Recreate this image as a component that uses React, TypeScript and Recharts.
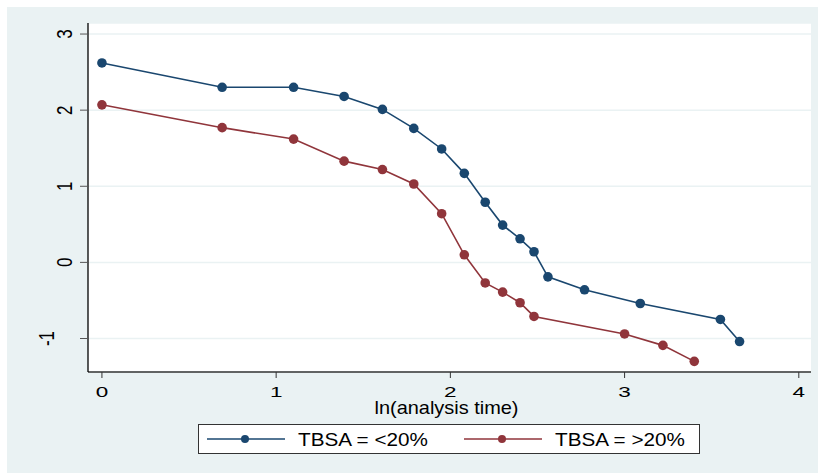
import { LineChart, Line, XAxis, YAxis, CartesianGrid, Legend } from 'recharts';

// ln(analysis time) and the y values for each TBSA group
const smallX = [0, 0.69, 1.1, 1.39, 1.61, 1.79, 1.95, 2.08, 2.2, 2.3, 2.4, 2.48, 2.56, 2.77, 3.09, 3.55, 3.66];
const smallY = [2.62, 2.3, 2.3, 2.18, 2.01, 1.76, 1.49, 1.17, 0.79, 0.49, 0.31, 0.14, -0.19, -0.36, -0.54, -0.75, -1.04];

const largeX = [0, 0.69, 1.1, 1.39, 1.61, 1.79, 1.95, 2.08, 2.2, 2.3, 2.4, 2.48, 3.0, 3.22, 3.4];
const largeY = [2.07, 1.77, 1.62, 1.33, 1.22, 1.03, 0.64, 0.1, -0.27, -0.39, -0.53, -0.71, -0.94, -1.09, -1.3];

const xTicks = [0, 1, 2, 3, 4];
const yTicks = [-1, 0, 1, 2, 3];

const seriesNames = ['TBSA = <20%', 'TBSA = >20%'];

const NAVY = '#1a476f';
const MAROON = '#90353b';
const BG = '#eaf2f3';
const FONT = '"Liberation Sans", Arial, sans-serif';

const smallData = smallX.map((x, i) => ({ x, y: smallY[i] }));
const largeData = largeX.map((x, i) => ({ x, y: largeY[i] }));

const XTick = (props: any) => {
    const { x, y, payload } = props;
    return (
        <g transform={`translate(${x},${y + 19})`}>
            <text transform="scale(1.5,1)" textAnchor="middle" fontSize={15} fontFamily={FONT} fill="#000">
                {payload.value}
            </text>
        </g>
    );
};

const YTick = (props: any) => {
    const { x, y, payload } = props;
    const dx = payload.value < 0 ? -26 : -8;
    return (
        <g transform={`translate(${x + dx},${y}) scale(1.3,1) rotate(-90)`}>
            <text textAnchor="middle" fontSize={17} fontFamily={FONT} fill="#000">
                {payload.value}
            </text>
        </g>
    );
};

const XTitle = (props: any) => {
    const { viewBox } = props;
    const cx = viewBox.x + viewBox.width / 2 - 3;
    return (
        <g transform={`translate(${cx},${viewBox.y + 42}) scale(1.05,1)`}>
            <text textAnchor="middle" fontSize={19} fontFamily={FONT} fill="#000">
                ln(analysis time)
            </text>
        </g>
    );
};

const renderLegend = (props: any) => {
    const items = props.payload || [];
    const slots = [9, 266];
    return (
        <svg width={502} height={30} style={{ display: 'block' }}>
            <rect x={0.5} y={0.5} width={501} height={29} fill="#fff" stroke="#333" />
            {items.map((it: any, i: number) => {
                const lx = slots[i];
                return (
                    <g key={it.value}>
                        <line x1={lx} x2={lx + 78} y1={15} y2={15} stroke={it.color} strokeWidth={1.6} />
                        <circle cx={lx + 38} cy={15} r={4} fill={it.color} />
                        <g transform={`translate(${lx + 91},22) scale(1.15,1)`}>
                            <text fontSize={18} fontFamily={FONT} fill="#000">
                                {it.value}
                            </text>
                        </g>
                    </g>
                );
            })}
        </svg>
    );
};

export default function App() {
    return (
        <div style={{ position: 'absolute', left: 0, top: 0, width: 818, height: 473, background: '#fff' }}>
            <div style={{ position: 'absolute', left: 7, top: 7, width: 811, height: 466, background: BG }} />
            <div style={{ position: 'absolute', left: 0, top: 0 }}>
                <LineChart width={818} height={473} margin={{ top: 23, right: 7, bottom: 61, left: 28 }}>
                    <CartesianGrid vertical={false} stroke={BG} strokeWidth={1.5} fill="#fff" />
                    <XAxis
                        type="number"
                        dataKey="x"
                        domain={[-0.08, 4.07]}
                        ticks={xTicks}
                        allowDataOverflow
                        height={40}
                        tickSize={6}
                        tickMargin={0}
                        axisLine={{ stroke: '#333', strokeWidth: 1.3 }}
                        tickLine={{ stroke: '#333' }}
                        tick={<XTick />}
                        label={<XTitle />}
                    />
                    <YAxis
                        type="number"
                        dataKey="y"
                        domain={[-1.44, 3.145]}
                        ticks={yTicks}
                        allowDataOverflow
                        width={60}
                        tickSize={8}
                        tickMargin={0}
                        axisLine={{ stroke: '#000', strokeWidth: 1.3 }}
                        tickLine={{ stroke: '#555' }}
                        tick={<YTick />}
                    />
                    <Line
                        data={smallData}
                        dataKey="y"
                        name={seriesNames[0]}
                        stroke={NAVY}
                        strokeWidth={1.6}
                        dot={{ r: 4.8, fill: NAVY, stroke: NAVY, strokeWidth: 0 }}
                        isAnimationActive={false}
                    />
                    <Line
                        data={largeData}
                        dataKey="y"
                        name={seriesNames[1]}
                        stroke={MAROON}
                        strokeWidth={1.6}
                        dot={{ r: 4.8, fill: MAROON, stroke: MAROON, strokeWidth: 0 }}
                        isAnimationActive={false}
                    />
                    <Legend
                        layout="horizontal"
                        verticalAlign="middle"
                        align="center"
                        content={renderLegend}
                        wrapperStyle={{ position: 'absolute', left: 198, top: 424, width: 502, height: 30 }}
                    />
                </LineChart>
            </div>
        </div>
    );
}
